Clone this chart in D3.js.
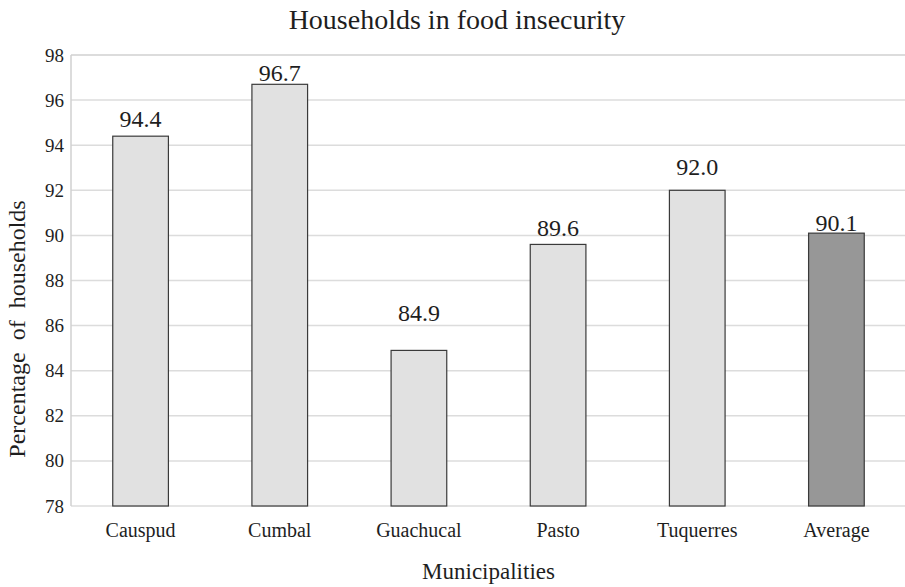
<!DOCTYPE html>
<html>
<head>
<meta charset="utf-8">
<script src="https://cdn.jsdelivr.net/npm/d3@7"></script>
<style>
  html, body { margin: 0; padding: 0; background: #fff; }
  svg { display: block; }
  svg text { font-family: "Liberation Serif", "Times New Roman", serif !important; fill: #1e1e1e; }
</style>
</head>
<body>
<svg id="chart" width="905" height="587"></svg>
<script>
const categories = ["Causpud", "Cumbal", "Guachucal", "Pasto", "Tuquerres", "Average"];
const values = [94.4, 96.7, 84.9, 89.6, 92.0, 90.1];
const yTicks = [78, 80, 82, 84, 86, 88, 90, 92, 94, 96, 98];
const titleText = "Households in food insecurity";
const xTitle = "Municipalities";
const yTitle = "Percentage  of  households";

const svg = d3.select("#chart");
const plotLeft = 71, plotRight = 906, plotTop = 55, plotBottom = 506;

const x = d3.scaleBand().domain(categories).range([plotLeft, plotRight])
  .paddingInner(0.6).paddingOuter(0.3);
const y = d3.scaleLinear().domain([78, 98]).range([plotBottom, plotTop]);

// gridlines
svg.append("g").selectAll("line").data(yTicks).join("line")
  .attr("x1", plotLeft).attr("x2", 905)
  .attr("y1", d => y(d)).attr("y2", d => y(d))
  .attr("stroke", "#dcdcdc").attr("stroke-width", d => d === 98 ? 2 : 1.5);

// left axis line
svg.append("line").attr("x1", plotLeft).attr("x2", plotLeft)
  .attr("y1", plotTop).attr("y2", plotBottom)
  .attr("stroke", "#d0d0d0").attr("stroke-width", 1.5);

// y axis labels
const yAxis = d3.axisLeft(y).tickValues(yTicks).tickSize(0).tickPadding(7);
const gy = svg.append("g").attr("transform", `translate(${plotLeft},0)`).call(yAxis);
gy.select(".domain").remove();
gy.selectAll("text").style("font-size", "19px");

// bars
svg.append("g").selectAll("rect").data(values).join("rect")
  .attr("x", (d, i) => x(categories[i]))
  .attr("width", x.bandwidth())
  .attr("y", d => y(d))
  .attr("height", d => plotBottom - y(d))
  .attr("fill", (d, i) => categories[i] === "Average" ? "#979797" : "#e1e1e1")
  .attr("stroke", "#3a3a3a").attr("stroke-width", 1.2);

// value labels (lift above bar top, in px)
const labelLift = [9, 3, 29, 8, 15, 2];
svg.append("g").selectAll("text").data(values).join("text")
  .attr("x", (d, i) => x(categories[i]) + x.bandwidth() / 2)
  .attr("y", (d, i) => y(d) - labelLift[i])
  .attr("text-anchor", "middle")
  .style("font-size", "24px")
  .text(d => d.toFixed(1));

// x axis category labels
const xAxis = d3.axisBottom(x).tickSize(0).tickPadding(17);
const gx = svg.append("g").attr("transform", `translate(0,${plotBottom})`).call(xAxis);
gx.select(".domain").remove();
gx.selectAll("text").style("font-size", "20px");

// titles
svg.append("text").attr("x", 457).attr("y", 29).attr("text-anchor", "middle")
  .style("font-size", "28px").text(titleText);
svg.append("text").attr("x", (plotLeft + plotRight) / 2).attr("y", 579).attr("text-anchor", "middle")
  .style("font-size", "23px").text(xTitle);
svg.append("text").attr("transform", "translate(25,329) rotate(-90)")
  .attr("text-anchor", "middle")
  .style("font-size", "24px").style("white-space", "pre").text(yTitle);
</script>
</body>
</html>
